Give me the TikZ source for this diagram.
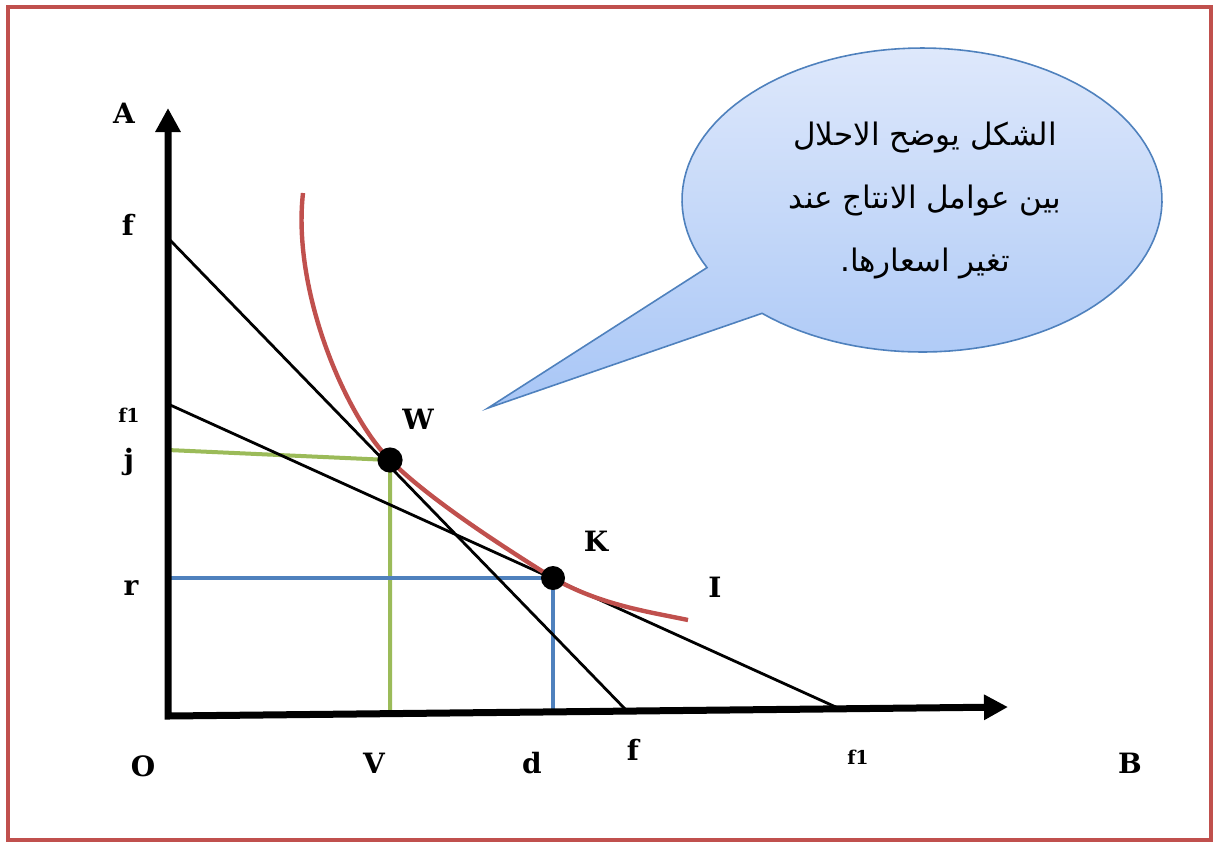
\documentclass[tikz,border=0pt]{standalone}
\usepackage{fontspec}
\setmainfont{DejaVu Serif}
\newfontfamily\arabicfont[Script=Arabic]{DejaVu Sans}
\TeXXeTstate=1
\usetikzlibrary{arrows.meta}
\definecolor{framered}{RGB}{192,80,77}
\definecolor{curvered}{RGB}{192,80,77}
\definecolor{linegreen}{RGB}{155,187,89}
\definecolor{lineblue}{RGB}{79,129,189}
\definecolor{calloutedge}{RGB}{79,129,189}
\definecolor{callouttop}{RGB}{222,232,251}
\definecolor{calloutbottom}{RGB}{168,198,246}

\begin{document}
\begin{tikzpicture}[x=0.5pt, y=-0.5pt,
    axis/.style={line width=3.5pt, line join=miter,
        {Triangle[length=12pt,width=12pt]}-{Triangle[length=12pt,width=12pt]}},
    budget/.style={line width=1.4pt},
    isoquant/.style={curvered, line width=2.2pt},
    green guide/.style={linegreen, line width=2pt},
    blue guide/.style={lineblue, line width=2pt},
    lbl/.style={font=\bfseries\fontsize{14}{16}\selectfont},
    small lbl/.style={font=\bfseries\fontsize{9.5}{11}\selectfont},
    callout/.style={draw=calloutedge, line width=0.8pt,
        top color=callouttop, bottom color=calloutbottom},
    callouttext/.style={align=center, font=\arabicfont\fontsize{15.5}{31.5}\selectfont}]
    \useasboundingbox (0,0) rectangle (1215,843);

    % Frame
    \draw[framered, line width=2pt] (8,7) rectangle (1211,840);

    % Points
    \coordinate (O) at (168,716);
    \coordinate (Atip) at (168,108);
    \coordinate (Btip) at (1008,707);
    \coordinate (W) at (390,460);
    \coordinate (K) at (553,578);
    \coordinate (jA) at (168,450);
    \coordinate (vB) at (390,713);
    \coordinate (rA) at (168,578);
    \coordinate (dB) at (553,713);
    \coordinate (fA) at (168,238);
    \coordinate (fB) at (628,712);
    \coordinate (f1A) at (168,404);
    \coordinate (f1B) at (838,708);
    \coordinate (Itop) at (303,193);
    \coordinate (Iend) at (688,620);
    \coordinate (tail) at (488,408);

    % Guide lines to the axes
    \draw[green guide] (jA) -- (W) -- (vB);
    \draw[blue guide] (rA) -- (K) -- (dB);

    % Cost lines
    \draw[budget] (fA) -- (fB);
    \draw[budget] (f1A) -- (f1B);

    % Axes
    \draw[axis] (Atip) -- (O) -- (Btip);

    % Isoquant I
    \draw[isoquant] (Itop) .. controls (292,290) and (345,415) .. (W)
        .. controls (430,500) and (505,548) .. (K)
        .. controls (600,605) and (650,612) .. (Iend);

    % Tangency points
    \fill (W) circle[radius=6.3pt];
    \fill (K) circle[radius=6pt];

    % Labels
    \node[lbl] (labA) at (124,113) {A};
    \node[lbl] (labf) at (128,225) {f};
    \node[small lbl] (labf1) at (129,415) {f1};
    \node[lbl] (labj) at (129,462) {j};
    \node[lbl] (labr) at (131,588) {r};
    \node[lbl] (labO) at (143,766) {O};
    \node[lbl] (labV) at (374,763) {V};
    \node[lbl] (labd) at (532,763) {d};
    \node[lbl] (labfb) at (633,750) {f};
    \node[small lbl] (labf1b) at (858,757) {f1};
    \node[lbl] (labB) at (1130,763) {B};
    \node[lbl] (labW) at (418,419) {W};
    \node[lbl] (labK) at (596,541) {K};
    \node[lbl] (labI) at (715,587) {I};

    % Callout
    \draw[callout] (tail) -- plot[domain=153.6:491.8, samples=120]
        ({922+240*cos(\x)}, {200+152*sin(\x)}) -- cycle;
    \node[callouttext] (note) at (925,200)
        {\beginR الشكل يوضح الاحلال\endR\\
         \beginR بين عوامل الانتاج عند\endR\\
         \beginR تغير اسعارها.\endR};
\end{tikzpicture}
\end{document}
